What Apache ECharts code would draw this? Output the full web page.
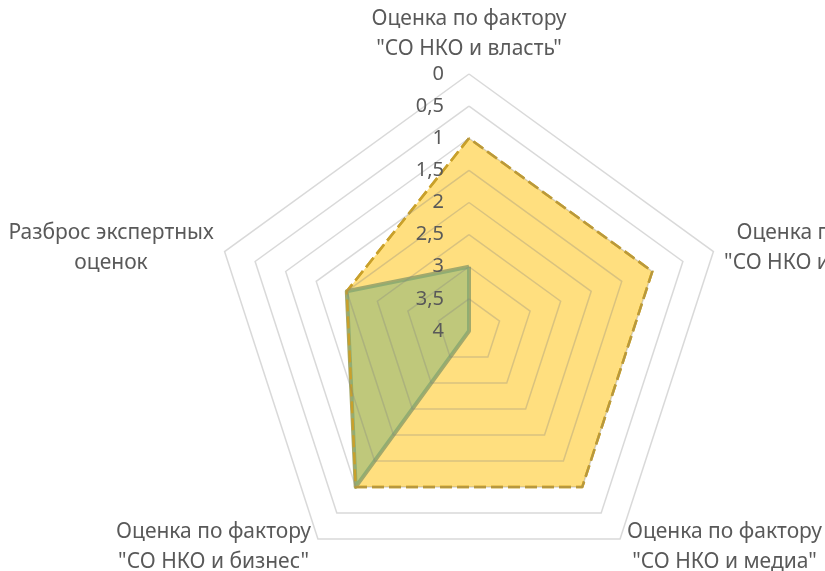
<!DOCTYPE html>
<html><head><meta charset="utf-8">
<script src="https://cdn.jsdelivr.net/npm/echarts@6/dist/echarts.min.js"></script>
<style>html,body{margin:0;padding:0;background:#fff}#c{width:825px;height:571px}</style>
</head><body><div id="c"></div>
<script>
// categories in clockwise order starting at top
const categories = [
  'Оценка по фактору\n"СО НКО и власть"',
  'Оценка по фактору\n"СО НКО и общество"',
  'Оценка по фактору\n"СО НКО и медиа"',
  'Оценка по фактору\n"СО НКО и бизнес"',
  'Разброс экспертных\nоценок'
];
// values on the original (inverted) scale: 0 = outer ring, 4 = centre
const seriesYellow = [1, 1, 1, 1, 2];
const seriesGreen = [3, 4, 4, 1, 2];
const tickLabels = ['0', '0,5', '1', '1,5', '2', '2,5', '3', '3,5', '4'];
const AXIS_MAX = 4;

// echarts places indicators counter-clockwise; reorder
const order = [0, 4, 3, 2, 1];
const inv = v => AXIS_MAX - v;
const reorder = arr => order.map(i => arr[i]);

const FONT = 'Noto Sans';
const NAME_SIZE = 21;

// measure label lines so that multi-line names are centred within their block
const ctx = document.createElement('canvas').getContext('2d');
ctx.font = NAME_SIZE + 'px "' + FONT + '"';
const rich = {};
categories.forEach((c, i) => {
  const w = Math.max(...c.split('\n').map(l => ctx.measureText(l).width));
  rich['n' + i] = { width: Math.ceil(w) + 2, align: 'center', color: '#595959',
    fontSize: NAME_SIZE, lineHeight: 30, fontFamily: FONT };
});

const indicator = reorder(categories).map((name, k) => {
  const o = { name: name, min: 0, max: AXIS_MAX };
  if (k !== 0) o.axisLabel = { show: false };
  return o;
});

const chart = echarts.init(document.getElementById('c'));
chart.setOption({
  animation: false,
  backgroundColor: '#fff',
  radar: {
    z: 3,
    center: [469, 331],
    radius: 257,
    shape: 'polygon',
    startAngle: 90,
    splitNumber: 8,
    indicator: indicator,
    nameGap: 10,
    axisName: {
      color: '#595959', fontSize: NAME_SIZE, lineHeight: 30, fontFamily: FONT,
      formatter: name => {
        const i = categories.indexOf(name);
        return name.split('\n').map(l => '{n' + i + '|' + l + '}').join('\n');
      },
      rich: rich
    },
    axisLine: { show: false },
    axisTick: { show: false },
    splitArea: { show: false },
    splitLine: { lineStyle: { color: 'rgba(128,128,128,0.3)', width: 1.5 } },
    axisLabel: {
      show: true, color: '#595959', fontSize: 20, fontFamily: FONT, margin: 25,
      formatter: v => tickLabels[Math.round((AXIS_MAX - v) / 0.5)]
    }
  },
  series: [{
    type: 'radar',
    z: 2,
    symbol: 'none',
    data: [
      { value: reorder(seriesYellow).map(inv), symbol: 'none',
        areaStyle: { color: '#FFC000', opacity: 0.5 },
        lineStyle: { color: '#C8A02C', width: 2.5, type: [12, 5] } },
      { value: reorder(seriesGreen).map(inv), symbol: 'none',
        areaStyle: { color: '#80B278', opacity: 0.5 },
        lineStyle: { color: '#A3A96C', width: 4 } },
      { value: reorder(seriesYellow).map(inv), symbol: 'none',
        lineStyle: { color: '#C8A02C', width: 2.5, type: [12, 5] } }
    ]
  }]
});
</script></body></html>
